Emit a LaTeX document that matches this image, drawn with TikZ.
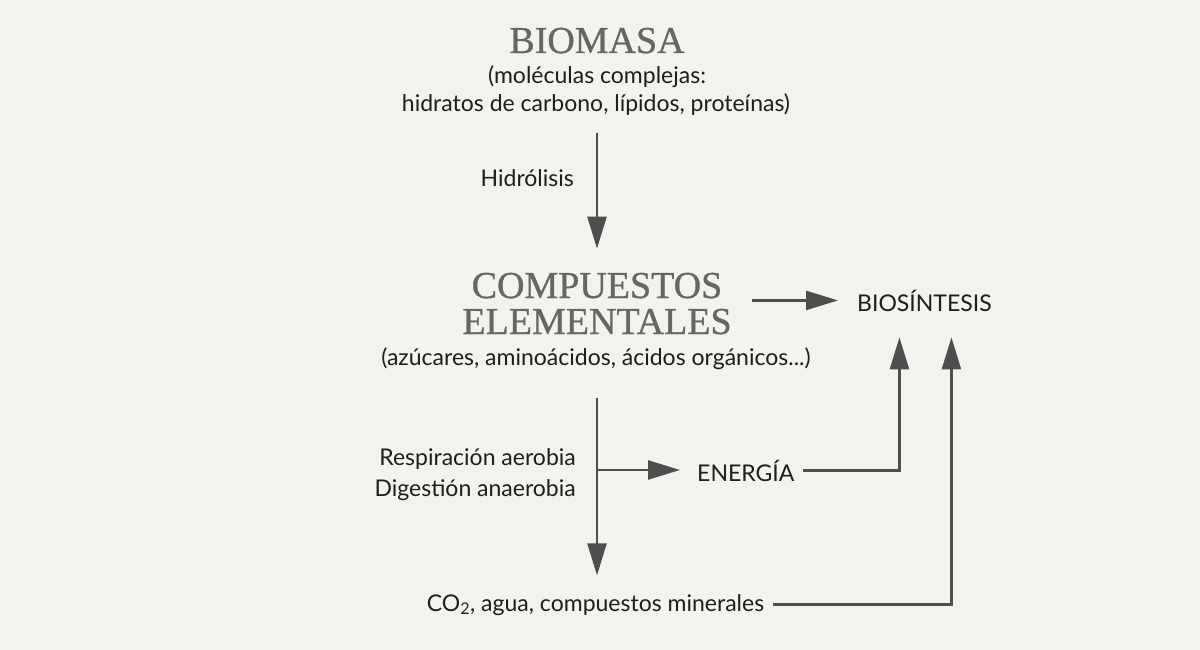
\documentclass[tikz,border=0pt]{standalone}
\usepackage{fontspec}
\setmainfont{Lato}
\newfontfamily\titlefont[FakeBold=0.8]{Liberation Serif}
\usetikzlibrary{arrows.meta}
\definecolor{bg}{HTML}{F4F2ED}
\definecolor{titlegray}{HTML}{666666}
\definecolor{ink}{HTML}{1E1E1E}
\definecolor{arrowgray}{HTML}{4E4E4E}
\begin{document}
\begin{tikzpicture}[x=1pt,y=-1pt,
  title/.style={font=\titlefont\fontsize{38}{38}\selectfont, text=titlegray, inner sep=0pt, anchor=base},
  txt/.style={font=\fontsize{23}{23}\selectfont, text=ink, inner sep=0pt, anchor=base},
  arr/.style={draw=arrowgray, line width=2.5pt, -{Triangle[length=32pt,width=19pt]}},
  ln/.style={draw=arrowgray, line width=2.5pt}]
\fill[bg] (0,0) rectangle (1200,650);
\useasboundingbox (0,0) rectangle (1200,650);
% nodes
\node[title] (bio) at (597,53) {BIOMASA};
\node[txt] (bio1) at (597,84) {(moléculas complejas:};
\node[txt] (bio2) at (596,112) {hidratos de carbono, lípidos, proteínas)};
\node[txt, anchor=base east] (hid) at (574,186) {Hidrólisis};
\node[title] (comp1) at (597,298) {COMPUESTOS};
\node[title] (comp2) at (597,334) {ELEMENTALES};
\node[txt] (comp3) at (596,365) {(azúcares, aminoácidos, ácidos orgánicos...)};
\node[txt, anchor=base west] (bios) at (857,311) {BIOSÍNTESIS};
\node[txt, anchor=base east] (resp) at (576,465) {Respiración aerobia};
\node[txt, anchor=base east] (dig) at (576,496) {Digestión anaerobia};
\node[txt, anchor=base west] (ener) at (697,481) {ENERGÍA};
\node[txt] (co2) at (595.5,611) {CO\textsubscript{2}, agua, compuestos minerales};
% connectors
\draw[arr, shorten <=16.5pt, shorten >=24pt] (bio2.south -| comp1.north) -- (comp1.north);
\draw[arr, shorten <=29pt, shorten >=19pt] (bios.west -| comp1.east) -- (bios.west);
\coordinate (junc) at (597,470);
\draw[arr, shorten <=28.5pt, shorten >=18.5pt] (comp3.south -| comp1.south) -- (co2.north -| comp1.south);
\draw[arr, shorten >=17pt] (junc) -- (junc -| ener.west);
\draw[arr, shorten <=8pt, shorten >=26pt] (ener.east) -| ([xshift=-25pt]bios.south);
\draw[arr, shorten <=9pt, shorten >=26pt] (co2.east) -| ([xshift=27pt]bios.south);
\end{tikzpicture}
\end{document}
